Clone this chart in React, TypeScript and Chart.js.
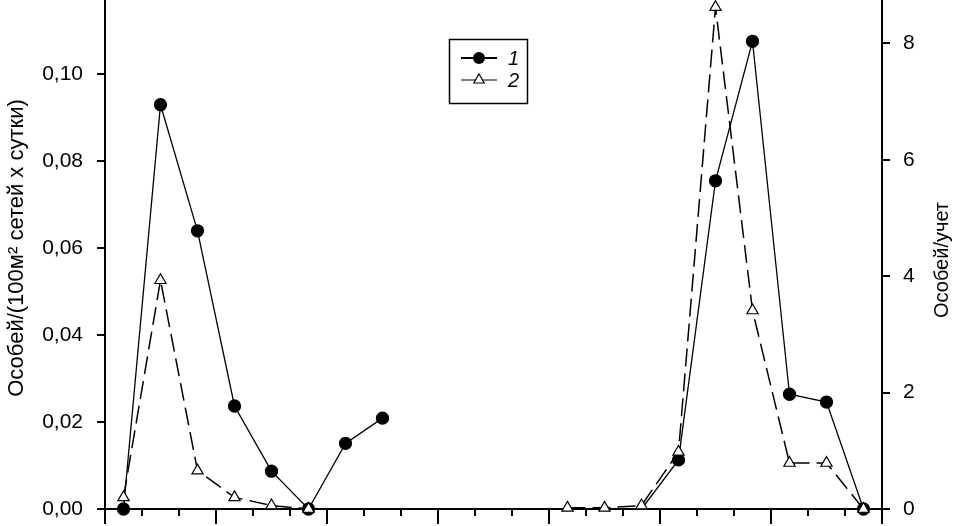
import { useEffect, useRef } from 'react';
import { Chart, registerables } from 'chart.js';

Chart.register(...registerables);

const FONT = '"Liberation Sans", Arial, Helvetica, sans-serif';

// x positions of the sampling points (between the axis ticks)
const xPositions = [0.5, 1.5, 2.5, 3.5, 4.5, 5.5, 6.5, 7.5, 8.5, 9.5, 10.5, 11.5, 12.5, 13.5, 14.5, 15.5, 16.5, 17.5, 18.5, 19.5, 20.5];

// Series 1: Особей/(100м² сетей х сутки) — left axis
const series1 = [0, 0.093, 0.064, 0.0237, 0.0087, 0, 0.0151, 0.0209, null, null, null, null, null, null, 0, 0.0113, 0.0755, 0.1076, 0.0264, 0.0246, 0];

// Series 2: Особей/учет — right axis
const series2 = [0.2, 3.93, 0.66, 0.2, 0.06, 0, null, null, null, null, null, null, 0.02, 0.02, 0.06, 0.98, 8.62, 3.41, 0.79, 0.79, 0];

const leftTicks = [0, 0.02, 0.04, 0.06, 0.08, 0.1];
const rightTicks = [0, 2, 4, 6, 8];
const xTickValues = [0, 1, 2, 3, 4, 5, 6, 7, 8, 9, 10, 11, 12, 13, 14, 15, 16, 17, 18, 19, 20, 21];

const leftTitle = 'Особей/(100м² сетей х сутки)';
const rightTitle = 'Особей/учет';
const legendLabels = ['1', '2'];

function drawTriangle(ctx: CanvasRenderingContext2D, x: number, y: number, r: number) {
  const s = Math.sin((2 * Math.PI) / 3) * r;
  ctx.beginPath();
  ctx.moveTo(x, y - r);
  ctx.lineTo(x + s, y + r * 0.5);
  ctx.lineTo(x - s, y + r * 0.5);
  ctx.closePath();
  ctx.fillStyle = '#fff';
  ctx.fill();
  ctx.strokeStyle = '#000';
  ctx.lineWidth = 1.2;
  ctx.stroke();
}

const overlayPlugin = {
  id: 'overlay',
  afterDraw(chart: any) {
    const ctx: CanvasRenderingContext2D = chart.ctx;
    const xs = chart.scales.x;
    const area = chart.chartArea;
    ctx.save();
    // x-axis tick marks (minor every 1, major every 3)
    ctx.strokeStyle = '#000';
    ctx.lineWidth = 2;
    for (const v of xTickValues) {
      const px = Math.round(xs.getPixelForValue(v));
      const len = v % 3 === 0 ? 15 : 7;
      ctx.beginPath();
      ctx.moveTo(px, area.bottom);
      ctx.lineTo(px, area.bottom + len);
      ctx.stroke();
    }
    // axis titles
    ctx.fillStyle = '#000';
    ctx.textAlign = 'center';
    ctx.textBaseline = 'middle';
    ctx.font = `22px ${FONT}`;
    ctx.save();
    ctx.translate(17, 248);
    ctx.rotate(-Math.PI / 2);
    ctx.fillText(leftTitle, 0, 0);
    ctx.restore();
    ctx.font = `20px ${FONT}`;
    ctx.save();
    ctx.translate(942, 260);
    ctx.rotate(-Math.PI / 2);
    ctx.fillText(rightTitle, 0, 0);
    ctx.restore();

    // legend box
    ctx.strokeStyle = '#000';
    ctx.lineWidth = 1.5;
    ctx.strokeRect(449.5, 39.5, 78, 64);
    // entry 1
    ctx.lineWidth = 2;
    ctx.beginPath();
    ctx.moveTo(461, 58);
    ctx.lineTo(497, 58);
    ctx.stroke();
    ctx.beginPath();
    ctx.arc(479, 58, 6, 0, Math.PI * 2);
    ctx.fillStyle = '#000';
    ctx.fill();
    // entry 2
    ctx.lineWidth = 1.2;
    ctx.beginPath();
    ctx.moveTo(461, 80);
    ctx.lineTo(497, 80);
    ctx.stroke();
    drawTriangle(ctx, 479, 80, 6);
    ctx.fillStyle = '#000';
    ctx.font = `italic 20px ${FONT}`;
    ctx.textAlign = 'left';
    ctx.fillText(legendLabels[0], 508, 59);
    ctx.fillText(legendLabels[1], 508, 81);
    ctx.restore();
  },
};

export default function App() {
  const ref = useRef<HTMLCanvasElement | null>(null);

  useEffect(() => {
    if (!ref.current) return;
    const d1 = xPositions.map((x, i) => ({ x, y: series1[i] }));
    const d2 = xPositions.map((x, i) => ({ x, y: series2[i] }));
    const chart = new Chart(ref.current, {
      type: 'line',
      data: {
        datasets: [
          {
            label: legendLabels[0],
            data: d1 as any,
            yAxisID: 'y',
            borderColor: '#000',
            borderWidth: 1.3,
            backgroundColor: '#000',
            pointBackgroundColor: '#000',
            pointBorderColor: '#000',
            pointRadius: (c: any) => (c.dataIndex === 14 ? 0 : 6),
            pointStyle: 'circle',
            tension: 0,
            spanGaps: false,
            clip: false as any,
            order: 2,
          },
          {
            label: legendLabels[1],
            data: d2 as any,
            yAxisID: 'y1',
            borderColor: '#000',
            borderWidth: 1.5,
            borderDash: [18, 7],
            backgroundColor: '#fff',
            pointBackgroundColor: '#fff',
            pointBorderColor: '#000',
            pointBorderWidth: 1.2,
            pointRadius: 6.5,
            pointStyle: 'triangle',
            tension: 0,
            spanGaps: false,
            clip: false as any,
            order: 1,
          },
        ],
      },
      options: {
        animation: false,
        responsive: false,
        devicePixelRatio: 1,
        layout: { padding: 0, autoPadding: false },
        plugins: { legend: { display: false }, tooltip: { enabled: false }, title: { display: false } },
        scales: {
          x: {
            type: 'linear',
            min: 0,
            max: 21,
            grid: { display: false },
            ticks: { display: false },
            border: { display: true, color: '#000', width: 2 },
            afterFit(s: any) {
              s.height = 17;
              s.paddingLeft = 0;
              s.paddingRight = 0;
            },
          },
          y: {
            type: 'linear',
            position: 'left',
            min: 0,
            max: 0.1171,
            afterBuildTicks(s: any) {
              s.ticks = leftTicks.map((v) => ({ value: v }));
            },
            ticks: {
              color: '#000',
              font: { family: FONT, size: 21 },
              padding: 14,
              callback: (v: any) => Number(v).toFixed(2).replace('.', ','),
            },
            grid: { drawOnChartArea: false, drawTicks: true, tickLength: 8, color: '#000', lineWidth: 2 },
            border: { display: true, color: '#000', width: 2 },
            afterFit(s: any) {
              s.width = 105;
              s.paddingTop = 0;
              s.paddingBottom = 0;
            },
          },
          y1: {
            type: 'linear',
            position: 'right',
            min: 0,
            max: 8.744,
            afterBuildTicks(s: any) {
              s.ticks = rightTicks.map((v) => ({ value: v }));
            },
            ticks: {
              color: '#000',
              font: { family: FONT, size: 21 },
              padding: 13,
              callback: (v: any) => String(v),
            },
            grid: { drawOnChartArea: false, drawTicks: true, tickLength: 8, color: '#000', lineWidth: 2 },
            border: { display: true, color: '#000', width: 2 },
            afterFit(s: any) {
              s.width = 72;
              s.paddingTop = 0;
              s.paddingBottom = 0;
            },
          },
        },
      },
      plugins: [overlayPlugin],
    });
    return () => chart.destroy();
  }, []);

  return (
    <div style={{ position: 'absolute', left: 0, top: 0, width: 954, height: 526, background: '#fff' }}>
      <canvas ref={ref} width={954} height={526} style={{ display: 'block' }} />
    </div>
  );
}
